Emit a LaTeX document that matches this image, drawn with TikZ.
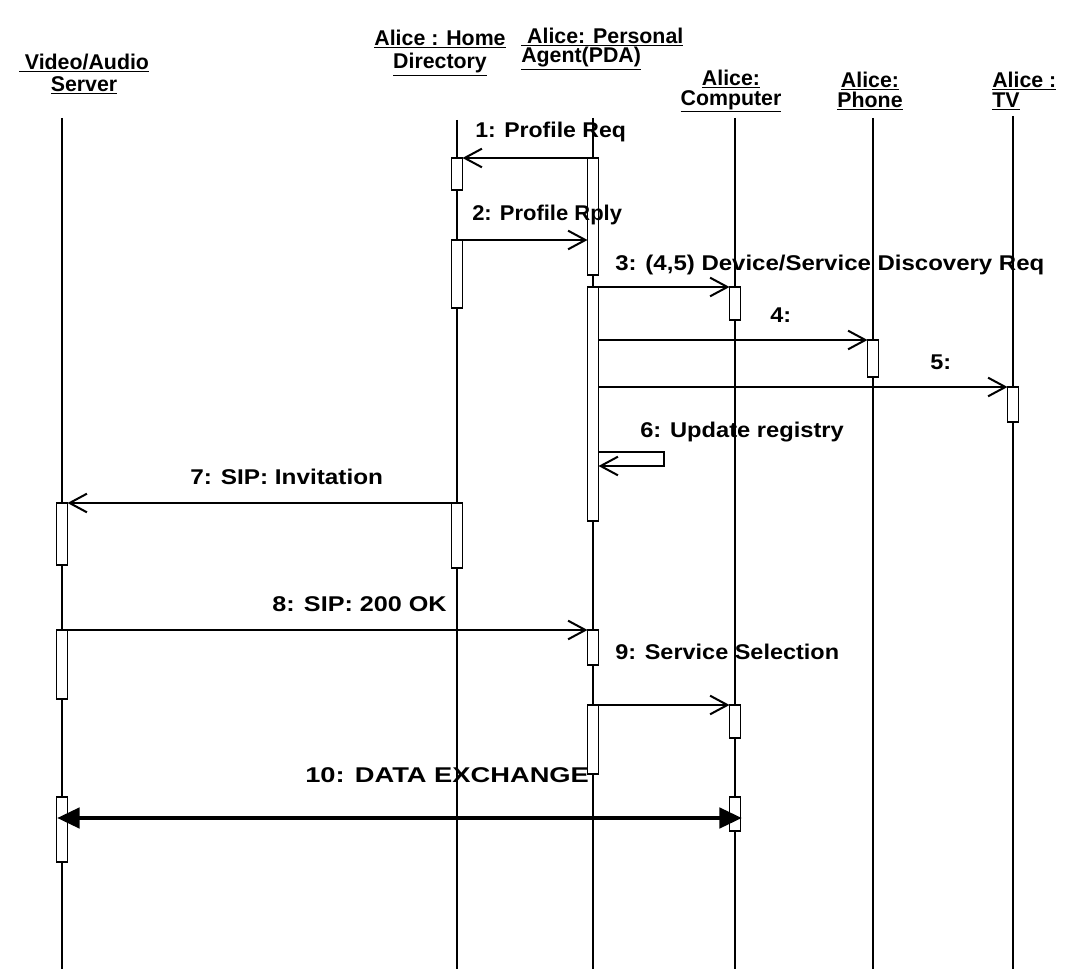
\documentclass[tikz,border=0pt]{standalone}
\usepackage{fontspec}
\usepackage{graphicx}
\setmainfont{Liberation Sans}
\usetikzlibrary{arrows.meta}
\newcommand\actbar[3]{\draw[bar] ({#1-5.5},#2) rectangle ({#1+5.5},#3);}
\newcommand\wide[2]{\scalebox{#1}[1]{#2}}
\begin{document}
\begin{tikzpicture}[x=0.75pt,y=-0.75pt,
 lbl/.style={font=\fontsize{16}{18}\selectfont\bfseries, inner sep=0pt, anchor=base west},
 hdr/.style={font=\fontsize{16}{17}\selectfont\bfseries, inner sep=0pt},
 life/.style={line width=0.9pt},
 bar/.style={draw, line width=0.8pt, fill=white},
 msg/.style={line width=1.2pt, -{Straight Barb[length=13pt,width=14pt,line width=1.5pt]}},
 big/.style={line width=3.6pt, {Triangle[length=17pt,width=15pt]}-{Triangle[length=17pt,width=15pt]}}
]
\useasboundingbox (0,0) rectangle (1070,969);
% headers
\node[hdr, align=center, font=\fontsize{16}{16.5}\selectfont\bfseries] (srv) at (84,74) {\underline{ Video/Audio}\\\underline{Server}};
\node[hdr, align=center, font=\fontsize{16}{17.5}\selectfont\bfseries] (home) at (440,53) {\underline{Alice : Home}\\\underline{Directory}};
\node[hdr, align=left, anchor=west, font=\fontsize{16}{13}\selectfont\bfseries] (pda) at (521,49) {\underline{ Alice: Personal}\\\underline{Agent(PDA)}};
\node[hdr, align=center, font=\fontsize{16}{15}\selectfont\bfseries] (comp) at (731,91) {\underline{Alice:}\\\underline{Computer}};
\node[hdr, align=center, font=\fontsize{16}{15}\selectfont\bfseries] (phone) at (870,91) {\underline{Alice:}\\\underline{Phone}};
\node[hdr, align=left, anchor=west, font=\fontsize{16}{15}\selectfont\bfseries] (tv) at (992,91) {\underline{Alice :}\\\underline{TV}};
% lifelines
\coordinate (vT) at (62,118);   \coordinate (vB) at (62,969);
\coordinate (hT) at (457,120);  \coordinate (hB) at (457,969);
\coordinate (pT) at (593,118);  \coordinate (pB) at (593,969);
\coordinate (cT) at (735,118);  \coordinate (cB) at (735,969);
\coordinate (fT) at (873,118);  \coordinate (fB) at (873,969);
\coordinate (tT) at (1013,116); \coordinate (tB) at (1013,969);
\draw[life] (vT) -- (vB);
\draw[life] (hT) -- (hB);
\draw[life] (pT) -- (pB);
\draw[life] (cT) -- (cB);
\draw[life] (fT) -- (fB);
\draw[life] (tT) -- (tB);
% activation bars
\actbar{457}{158}{190}
\actbar{457}{240}{308}
\actbar{457}{503}{568}
\actbar{593}{158}{275}
\actbar{593}{287}{521}
\actbar{593}{630}{665}
\actbar{593}{705}{774}
\actbar{735}{287}{320}
\actbar{735}{705}{738}
\actbar{735}{797}{831}
\actbar{873}{340}{377}
\actbar{1013}{387}{422}
\actbar{62}{503}{565}
\actbar{62}{630}{699}
\actbar{62}{797}{862}
% message end points
\coordinate (m1a) at (587.5,158); \coordinate (m1b) at (462.5,158);
\coordinate (m2a) at (457,240);   \coordinate (m2b) at (587.5,240);
\coordinate (m3a) at (598.5,287); \coordinate (m3b) at (729.5,287);
\coordinate (m4a) at (598.5,340); \coordinate (m4b) at (867.5,340);
\coordinate (m5a) at (598.5,387); \coordinate (m5b) at (1007.5,387);
\coordinate (m6a) at (598.5,452); \coordinate (m6r1) at (664,452);
\coordinate (m6r2) at (664,466);  \coordinate (m6b) at (598.5,466);
\coordinate (m7a) at (451.5,503); \coordinate (m7b) at (67.5,503);
\coordinate (m8a) at (62,630);    \coordinate (m8b) at (587.5,630);
\coordinate (m9a) at (598.5,705); \coordinate (m9b) at (729.5,705);
\coordinate (m10a) at (57,818);   \coordinate (m10b) at (742,818);
% messages
\draw[msg] (m1a) -- (m1b);
\draw[msg] (m2a) -- (m2b);
\draw[msg] (m3a) -- (m3b);
\draw[msg] (m4a) -- (m4b);
\draw[msg] (m5a) -- (m5b);
\draw[msg] (m6a) -- (m6r1) -- (m6r2) -- (m6b);
\draw[msg] (m7a) -- (m7b);
\draw[msg] (m8a) -- (m8b);
\draw[msg] (m9a) -- (m9b);
\draw[big] (m10a) -- (m10b);
% labels
\node[lbl] (l1) at (475,138) {\wide{1.08}{1: Profile Req}};
\node[lbl] (l2) at (472,221) {\wide{1.03}{2: Profile Rply}};
\node[lbl] (l3) at (615,271) {\wide{1.125}{3: (4,5) Device/Service Discovery Req}};
\node[lbl] (l4) at (770,323) {\wide{1.1}{4:}};
\node[lbl] (l5) at (930,370) {\wide{1.1}{5:}};
\node[lbl] (l6) at (640,437) {\wide{1.11}{6: Update registry}};
\node[lbl] (l7) at (190,484) {\wide{1.14}{7: SIP: Invitation}};
\node[lbl] (l8) at (272,611) {\wide{1.18}{8: SIP: 200 OK}};
\node[lbl] (l9) at (615,659) {\wide{1.1}{9: Service Selection}};
\node[lbl] (l10) at (305,782) {\wide{1.28}{10: DATA EXCHANGE}};
\end{tikzpicture}
\end{document}
